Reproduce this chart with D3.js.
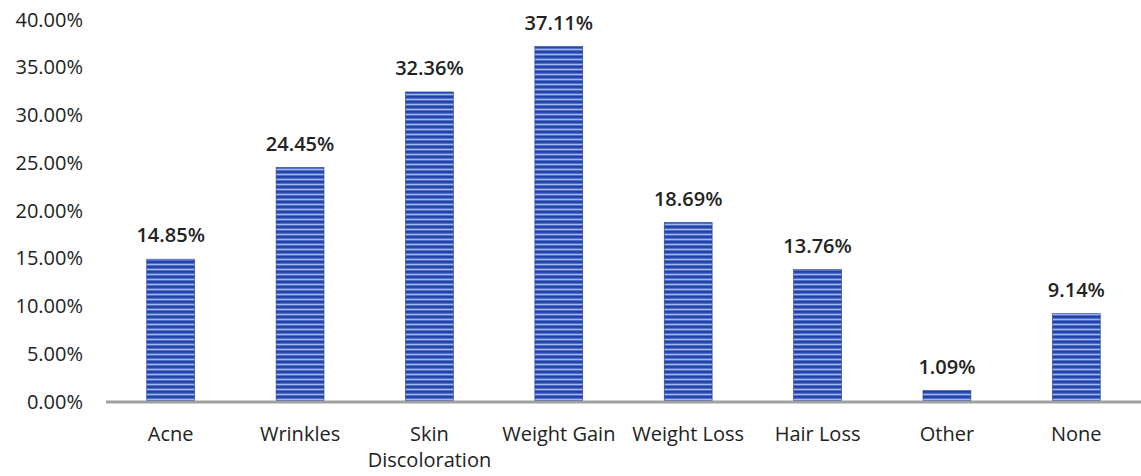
<!DOCTYPE html>
<html>
<head>
<meta charset="utf-8">
<script src="https://cdn.jsdelivr.net/npm/d3@7"></script>
<style>
  body { margin: 0; background: #fff; }
  text { font-family: "Open Sans", Lato, sans-serif; fill: #222; }
</style>
</head>
<body>
<div id="chart"></div>
<script>
/** Data **/
var categories = ["Acne", "Wrinkles", "Skin Discoloration", "Weight Gain", "Weight Loss", "Hair Loss", "Other", "None"];
var values = [14.85, 24.45, 32.36, 37.11, 18.69, 13.76, 1.09, 9.14];
var yTicks = [0, 5, 10, 15, 20, 25, 30, 35, 40];

var width = 1141, height = 476;
var margin = {top: 19, right: 0, bottom: 75, left: 106};

var svg = d3.select("#chart").append("svg")
    .attr("width", width)
    .attr("height", height);

/** Striped fill for the bars **/
var defs = svg.append("defs");
var grad = defs.append("linearGradient")
    .attr("id", "stripeGrad")
    .attr("x1", 0).attr("y1", 0).attr("x2", 0).attr("y2", 1);
grad.append("stop").attr("offset", "0%").attr("stop-color", "#1f3c9e");
grad.append("stop").attr("offset", "40%").attr("stop-color", "#2a4cb4");
grad.append("stop").attr("offset", "70%").attr("stop-color", "#9fb6ee");
grad.append("stop").attr("offset", "100%").attr("stop-color", "#2a4cb4");

var pattern = defs.append("pattern")
    .attr("id", "stripes")
    .attr("patternUnits", "userSpaceOnUse")
    .attr("width", 10)
    .attr("height", 5)
    .attr("y", 401);
pattern.append("rect")
    .attr("width", 10).attr("height", 5)
    .attr("fill", "url(#stripeGrad)");

var x = d3.scaleBand()
    .domain(categories)
    .range([margin.left, width - margin.right])
    .paddingInner(0.63)
    .paddingOuter(0.315);

var y = d3.scaleLinear()
    .domain([0, 40])
    .range([height - margin.bottom, margin.top]);

/** Y axis labels (no line) **/
var yAxis = svg.append("g")
    .attr("transform", "translate(" + (margin.left - 23) + ",0)")
    .call(d3.axisLeft(y).tickValues(yTicks).tickSize(0).tickPadding(0)
        .tickFormat(function(d) { return d.toFixed(2) + "%"; }));
yAxis.select(".domain").remove();
yAxis.selectAll("text")
    .attr("font-size", 20)
    .attr("dy", "0.36em")
    .style("font-family", "'Open Sans', Lato, sans-serif")
    .style("fill", "#222");

/** Bars **/
svg.selectAll(".bar")
    .data(values)
    .enter().append("rect")
    .attr("class", "bar")
    .attr("x", function(d, i) { return x(categories[i]); })
    .attr("y", function(d) { return y(d); })
    .attr("width", x.bandwidth())
    .attr("height", function(d) { return y(0) - y(d); })
    .attr("fill", "url(#stripes)")
    .attr("stroke", "#1f3c9e")
    .attr("stroke-width", 0.6);

/** Value labels **/
svg.selectAll(".val")
    .data(values)
    .enter().append("text")
    .attr("class", "val")
    .attr("x", function(d, i) { return x(categories[i]) + x.bandwidth() / 2; })
    .attr("y", function(d) { return y(d) - 17; })
    .attr("text-anchor", "middle")
    .attr("font-size", 20)
    .attr("font-weight", 600)
    .text(function(d) { return d.toFixed(2) + "%"; });

/** X axis line **/
svg.append("line")
    .attr("x1", margin.left)
    .attr("x2", width)
    .attr("y1", y(0) + 1)
    .attr("y2", y(0) + 1)
    .attr("stroke", "#a0a0a0")
    .attr("stroke-width", 3);

/** Category labels **/
var xAxis = svg.append("g")
    .attr("transform", "translate(0," + y(0) + ")")
    .call(d3.axisBottom(x).tickSize(0).tickPadding(0));
xAxis.select(".domain").remove();
xAxis.selectAll("text").remove();
xAxis.selectAll(".tick").each(function(d) {
    var lines = d === "Skin Discoloration" ? ["Skin", "Discoloration"] : [d];
    var tick = d3.select(this);
    lines.forEach(function(s, k) {
        tick.append("text")
            .attr("text-anchor", "middle")
            .attr("font-size", 20)
            .style("fill", "#222")
            .attr("x", 0)
            .attr("y", 40 + k * 26)
            .text(s);
    });
});
</script>
</body>
</html>
